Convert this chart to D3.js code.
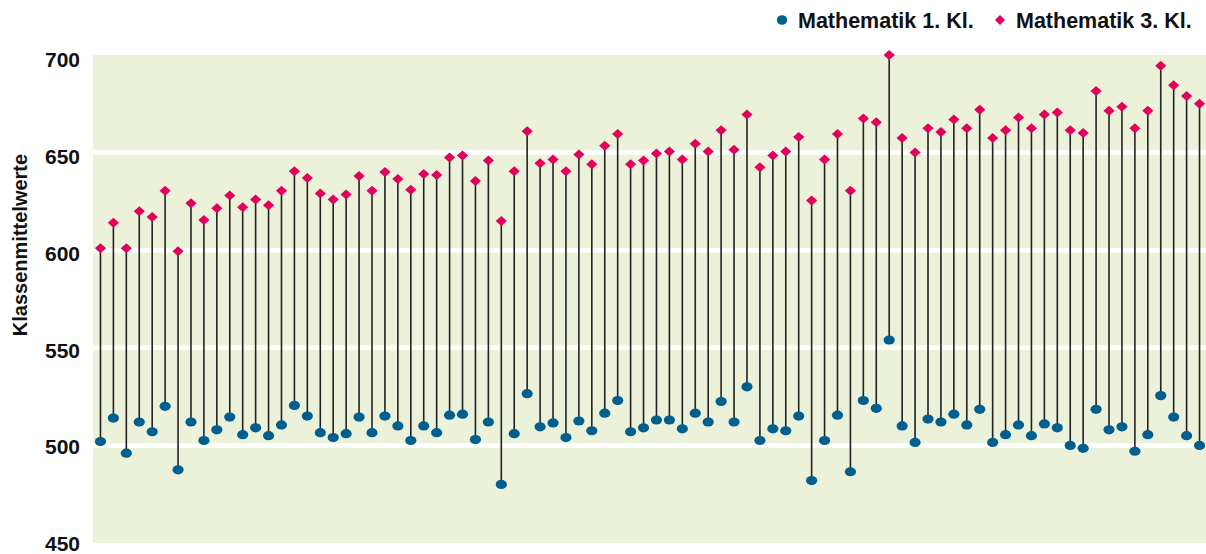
<!DOCTYPE html>
<html>
<head>
<meta charset="utf-8">
<script src="https://cdn.jsdelivr.net/npm/d3@7"></script>
<style>
  body { margin: 0; background: #fff; }
  text { font-family: "Liberation Sans", Arial, sans-serif; font-weight: bold; fill: #111; }
</style>
</head>
<body>
<svg id="chart" width="1206" height="554"></svg>
<script>

// Klassenmittelwerte je Klasse (86 Klassen)
var klasse = d3.range(1, 87);

var mathe1 = [
  502, 514, 496, 512, 507, 520, 487.5, 512, 502.5, 508,
  514.5, 505.5, 509, 505, 510.5, 520.5, 515, 506.5, 504, 506,
  514.5, 506.5, 515, 510, 502.5, 510, 506.5, 515.5, 516, 503,
  512, 480, 506, 526.5, 509.5, 511.5, 504, 512.5, 507.5, 516.5,
  523, 507, 509, 513, 513, 508.5, 516.5, 512, 522.5, 512,
  530, 502.5, 508.5, 507.5, 515, 482, 502.5, 515.5, 486.5, 523,
  519, 554, 510, 501.5, 513.5, 512, 516, 510.5, 518.5, 501.5,
  505.5, 510.5, 505, 511, 509, 500, 498.5, 518.5, 508, 509.5,
  497, 505.5, 525.5, 514.5, 505, 500
];

var mathe3 = [
  601, 614, 601, 620, 617, 630.5, 599.5, 624, 615.5, 621.5,
  628, 622, 626, 623, 630.5, 640.5, 637, 629, 626, 628.5,
  638, 630.5, 640, 636.5, 631, 639, 638.5, 647.5, 648.5, 635.5,
  646, 615, 640.5, 661, 644.5, 646.5, 640.5, 649, 644, 653.5,
  659.5, 644, 646, 649.5, 650.5, 646.5, 654.5, 650.5, 661.5, 651.5,
  669.5, 642.5, 648.5, 650.5, 658, 625.5, 646.5, 659.5, 630.5, 667.5,
  665.5, 700, 657.5, 650, 662.5, 660.5, 667, 662.5, 672, 657.5,
  661.5, 668, 662.5, 669.5, 670.5, 661.5, 660, 681.5, 671.5, 673.5,
  662.5, 671.5, 694.5, 684.5, 679, 675
];

var yTicks = [450, 500, 550, 600, 650, 700];
var legendLabels = ["Mathematik 1. Kl.", "Mathematik 3. Kl."];

var svg = d3.select("#chart");

var plotLeft = 94, plotRight = 1206, plotTop = 55, plotBottom = 543;

var xScale = d3.scalePoint()
    .domain(klasse)
    .range([plotLeft, plotRight])
    .padding(0.5);

var yScale = d3.scaleLinear()
    .domain([450, 700])
    .range([plotBottom, plotTop]);

// Beschriftungen sitzen etwas enger als die Gitterlinien
var yLabelScale = d3.scaleLinear()
    .domain([450, 700])
    .range([550.5, 66.8]);

// Hintergrund
svg.append("rect")
    .attr("x", plotLeft - 1)
    .attr("y", plotTop)
    .attr("width", plotRight - plotLeft + 1)
    .attr("height", plotBottom - plotTop)
    .attr("fill", "#ecf1d9");

// weisse Gitterlinien
svg.selectAll(".grid")
    .data(yTicks.filter(function(d){ return d > 450 && d < 700; }))
    .enter()
    .append("line")
    .attr("class", "grid")
    .attr("x1", plotLeft - 1)
    .attr("x2", plotRight)
    .attr("y1", function(d){ return yScale(d); })
    .attr("y2", function(d){ return yScale(d); })
    .attr("stroke", "#fff")
    .attr("stroke-width", 4.5);

// y-Achse
var yAxis = d3.axisLeft(yLabelScale)
    .tickValues(yTicks)
    .tickSize(0)
    .tickPadding(0);

var gy = svg.append("g")
    .attr("class", "y axis")
    .attr("transform", "translate(80,0)")
    .call(yAxis);

gy.select(".domain").remove();
gy.selectAll("text")
    .attr("dy", 0)
    .style("font-size", "21px")
    .style("font-family", "'Liberation Sans', Arial, sans-serif")
    .style("font-weight", "bold")
    .attr("fill", "#111");

svg.append("text")
    .attr("transform", "rotate(-90)")
    .attr("x", -245)
    .attr("y", 27)
    .style("text-anchor", "middle")
    .style("font-size", "20px")
    .text("Klassenmittelwerte");

// Verbindungslinien
svg.selectAll(".stem")
    .data(klasse)
    .enter()
    .append("line")
    .attr("class", "stem")
    .attr("x1", function(d){ return xScale(d); })
    .attr("x2", function(d){ return xScale(d); })
    .attr("y1", function(d, i){ return yScale(mathe1[i]); })
    .attr("y2", function(d, i){ return yScale(mathe3[i]); })
    .attr("stroke", "#222")
    .attr("stroke-width", 1.6);

// Mathematik 1. Kl.
svg.selectAll(".dot1")
    .data(klasse)
    .enter()
    .append("ellipse")
    .attr("class", "dot1")
    .attr("cx", function(d){ return xScale(d); })
    .attr("cy", function(d, i){ return yScale(mathe1[i]); })
    .attr("rx", 5.6)
    .attr("ry", 4.6)
    .attr("fill", "#005f8e");

// Mathematik 3. Kl.
var diamond = "M0,-5L5.6,0L0,5L-5.6,0Z";

svg.selectAll(".dot3")
    .data(klasse)
    .enter()
    .append("path")
    .attr("class", "dot3")
    .attr("transform", function(d, i){
        return "translate(" + xScale(d) + "," + yScale(mathe3[i]) + ")";
    })
    .attr("d", diamond)
    .attr("fill", "#e2005c");

// Legende
var legend = svg.append("g").attr("class", "legend");

legend.append("ellipse")
    .attr("cx", 782)
    .attr("cy", 20)
    .attr("rx", 5.2)
    .attr("ry", 4.8)
    .attr("fill", "#005f8e");

legend.append("text")
    .attr("x", 798)
    .attr("y", 27.5)
    .style("font-size", "21.5px")
    .text(legendLabels[0]);

legend.append("path")
    .attr("transform", "translate(1000,20)")
    .attr("d", "M0,-5L5,0L0,5L-5,0Z")
    .attr("fill", "#e2005c");

legend.append("text")
    .attr("x", 1016)
    .attr("y", 27.5)
    .style("font-size", "21.5px")
    .text(legendLabels[1]);

</script>
</body>
</html>
